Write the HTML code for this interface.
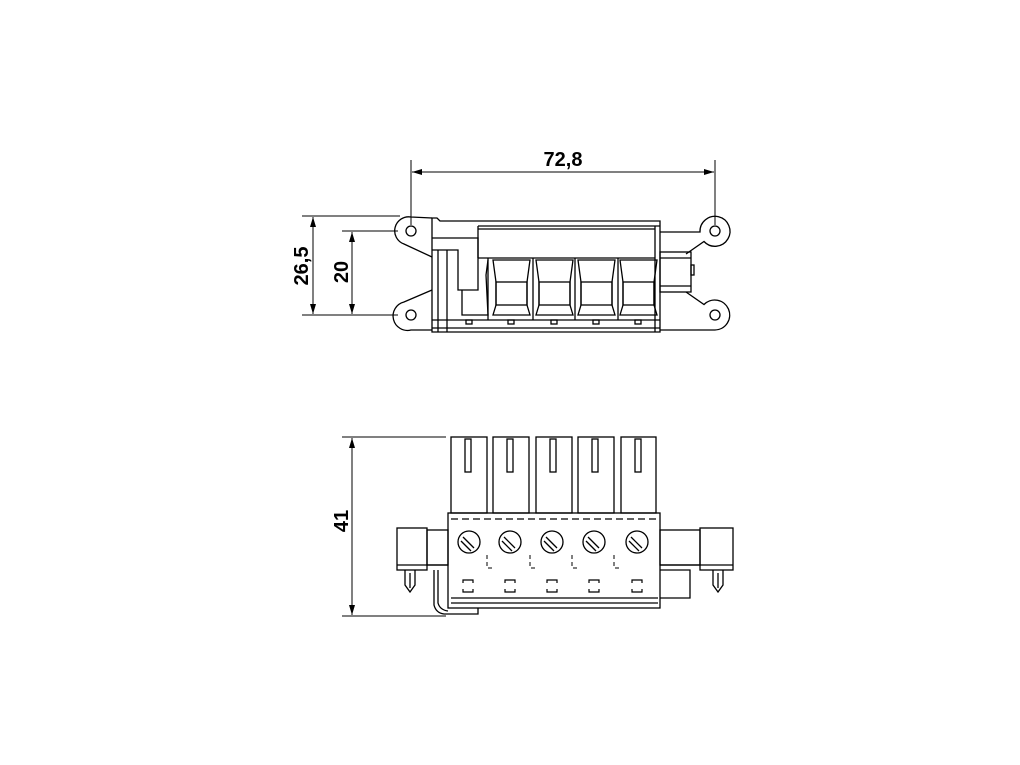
<!DOCTYPE html>
<html><head><style>html,body{margin:0;padding:0;background:#fff}svg{display:block}</style></head>
<body>
<svg width="1020" height="765" viewBox="0 0 1020 765" xmlns="http://www.w3.org/2000/svg" fill="none" stroke="#000" stroke-width="1.3" font-family="Liberation Sans, sans-serif">
<defs>
<marker id="a" viewBox="0 0 10 6" refX="10" refY="3" markerWidth="11" markerHeight="6" orient="auto-start-reverse" markerUnits="userSpaceOnUse"><path d="M0,0 L10,3 L0,6z" fill="#000" stroke="none"/></marker>
</defs>
<line x1="411" y1="160" x2="411" y2="225" stroke-width="1"/>
<line x1="715" y1="160" x2="715" y2="225" stroke-width="1"/>
<line x1="412" y1="172" x2="714" y2="172" stroke-width="1" marker-start="url(#a)" marker-end="url(#a)"/>
<text x="563" y="166" font-size="20" font-weight="bold" fill="#000" stroke="none" text-anchor="middle">72,8</text>
<line x1="302" y1="216" x2="400" y2="216" stroke-width="1"/>
<line x1="342" y1="231" x2="398" y2="231" stroke-width="1"/>
<line x1="302" y1="315" x2="398" y2="315" stroke-width="1"/>
<line x1="313" y1="217" x2="313" y2="314" stroke-width="1" marker-start="url(#a)" marker-end="url(#a)"/>
<line x1="352" y1="232" x2="352" y2="314" stroke-width="1" marker-start="url(#a)" marker-end="url(#a)"/>
<text transform="translate(308,266) rotate(-90)" font-size="20" font-weight="bold" fill="#000" stroke="none" text-anchor="middle">26,5</text>
<text transform="translate(348,272) rotate(-90)" font-size="20" font-weight="bold" fill="#000" stroke="none" text-anchor="middle">20</text>
<line x1="342" y1="437" x2="446" y2="437" stroke-width="1"/>
<line x1="342" y1="616" x2="446" y2="616" stroke-width="1"/>
<line x1="352" y1="438" x2="352" y2="615" stroke-width="1" marker-start="url(#a)" marker-end="url(#a)"/>
<text transform="translate(348,521) rotate(-90)" font-size="20" font-weight="bold" fill="#000" stroke="none" text-anchor="middle">41</text>

<!-- TOP VIEW -->
<path d="M432,218 L411,217 A14,14 0 0 0 404,244 L432,257"/>
<circle cx="411" cy="231" r="5"/>
<path d="M432,290 L404,302 A14,14 0 0 0 411,330 L432,330"/>
<circle cx="411" cy="315" r="5"/>
<path d="M660,232 L700,232 A15,15 0 1 1 704,241.5 L686,254"/>
<circle cx="715" cy="231" r="5"/>
<path d="M686,292 L704,304.5 A15,15 0 1 1 715,330 L660,330"/>
<circle cx="715" cy="315" r="5"/>
<rect x="660" y="252" width="31" height="40"/>
<line x1="660" y1="258" x2="691" y2="258"/>
<line x1="660" y1="286" x2="691" y2="286"/>
<rect x="691" y="265" width="3" height="10"/>
<path d="M432,218 L437,218 L440,221 L660,221 L660,332 L432,332 Z"/>
<line x1="478" y1="226" x2="660" y2="226"/>
<line x1="478" y1="229" x2="655" y2="229"/>
<line x1="655" y1="226" x2="655" y2="332"/>
<line x1="478" y1="226" x2="478" y2="258"/>
<path d="M432,238 L478,238 L478,290 L458,290 L458,250 L432,250"/>
<line x1="438" y1="250" x2="438" y2="332"/>
<line x1="447" y1="250" x2="447" y2="332"/>
<line x1="432" y1="320" x2="660" y2="320"/>
<line x1="432" y1="328" x2="660" y2="328"/>
<line x1="478" y1="258" x2="655" y2="258"/>
<g>
<path d="M493,260 L530,260 L527,282 L527,305 L530,315 L493,315 L496,305 L496,282 Z"/>
<rect x="496" y="282" width="31" height="23"/>
<path d="M536,260 L573,260 L570,282 L570,305 L573,315 L536,315 L539,305 L539,282 Z"/>
<rect x="539" y="282" width="31" height="23"/>
<path d="M578,260 L615,260 L612,282 L612,305 L615,315 L578,315 L581,305 L581,282 Z"/>
<rect x="581" y="282" width="31" height="23"/>
<path d="M620,260 L657,260 L654,282 L654,305 L657,315 L620,315 L623,305 L623,282 Z"/>
<rect x="623" y="282" width="31" height="23"/>
<path d="M462,290 L462,315 L488,315 L486,275 L488,260"/>
<line x1="488" y1="258" x2="488" y2="320"/>
<line x1="533" y1="258" x2="533" y2="320"/>
<line x1="575" y1="258" x2="575" y2="320"/>
<line x1="618" y1="258" x2="618" y2="320"/>
<rect x="466" y="320" width="6" height="4"/><rect x="508" y="320" width="6" height="4"/><rect x="551" y="320" width="6" height="4"/><rect x="593" y="320" width="6" height="4"/><rect x="635" y="320" width="6" height="4"/>
</g>

<!-- FRONT VIEW -->
<g>
<rect x="451" y="437" width="36" height="76"/><rect x="465" y="439" width="6" height="33"/>
<rect x="493" y="437" width="36" height="76"/><rect x="507" y="439" width="6" height="33"/>
<rect x="536" y="437" width="36" height="76"/><rect x="550" y="439" width="6" height="33"/>
<rect x="578" y="437" width="36" height="76"/><rect x="592" y="439" width="6" height="33"/>
<rect x="621" y="437" width="35" height="76"/><rect x="635" y="439" width="6" height="33"/>
<rect x="448" y="513" width="212" height="95"/>
<line x1="451" y1="519" x2="658" y2="519" stroke-dasharray="7,4"/>
<line x1="451" y1="598" x2="658" y2="598"/>
<line x1="451" y1="603" x2="658" y2="603"/>
<circle cx="469" cy="542" r="11"/><line x1="463" y1="537" x2="474" y2="548"/><line x1="461" y1="541" x2="471" y2="551"/>
<circle cx="510" cy="542" r="11"/><line x1="504" y1="537" x2="515" y2="548"/><line x1="502" y1="541" x2="512" y2="551"/>
<circle cx="552" cy="542" r="11"/><line x1="546" y1="537" x2="557" y2="548"/><line x1="544" y1="541" x2="554" y2="551"/>
<circle cx="594" cy="542" r="11"/><line x1="588" y1="537" x2="599" y2="548"/><line x1="586" y1="541" x2="596" y2="551"/>
<circle cx="637" cy="542" r="11"/><line x1="631" y1="537" x2="642" y2="548"/><line x1="629" y1="541" x2="639" y2="551"/>
<g stroke-dasharray="4,3" stroke-width="1">
<path d="M487,555 L487,568 L493,568"/><path d="M530,555 L530,568 L536,568"/><path d="M572,555 L572,568 L578,568"/><path d="M614,555 L614,568 L620,568"/>
</g>
<g stroke-width="1.2">
<path d="M463,583 L463,580 L473,580 L473,583 M463,589 L463,592 L473,592 L473,589"/>
<path d="M505,583 L505,580 L515,580 L515,583 M505,589 L505,592 L515,592 L515,589"/>
<path d="M547,583 L547,580 L557,580 L557,583 M547,589 L547,592 L557,592 L557,589"/>
<path d="M589,583 L589,580 L599,580 L599,583 M589,589 L589,592 L599,592 L599,589"/>
<path d="M632,583 L632,580 L642,580 L642,583 M632,589 L632,592 L642,592 L642,589"/>
</g>
<rect x="397" y="528" width="30" height="42"/>
<rect x="427" y="530" width="21" height="35"/>
<line x1="397" y1="565" x2="448" y2="565"/>
<path d="M405,570 L405,585 L410,592 L415,585 L415,570"/><line x1="410" y1="573" x2="410" y2="588"/>
<path d="M434,570 L434,605 Q436,613 444,614 L478,614 L478,608"/>
<path d="M438,570 L438,603 Q440,610 448,611"/>
<rect x="700" y="528" width="33" height="42"/>
<rect x="660" y="530" width="40" height="35"/>
<line x1="660" y1="565" x2="733" y2="565"/>
<path d="M660,570 L690,570 L690,598 L660,598"/>
<path d="M713,570 L713,585 L718,592 L723,585 L723,570"/><line x1="718" y1="573" x2="718" y2="588"/>
</g>
</svg>
</body></html>
